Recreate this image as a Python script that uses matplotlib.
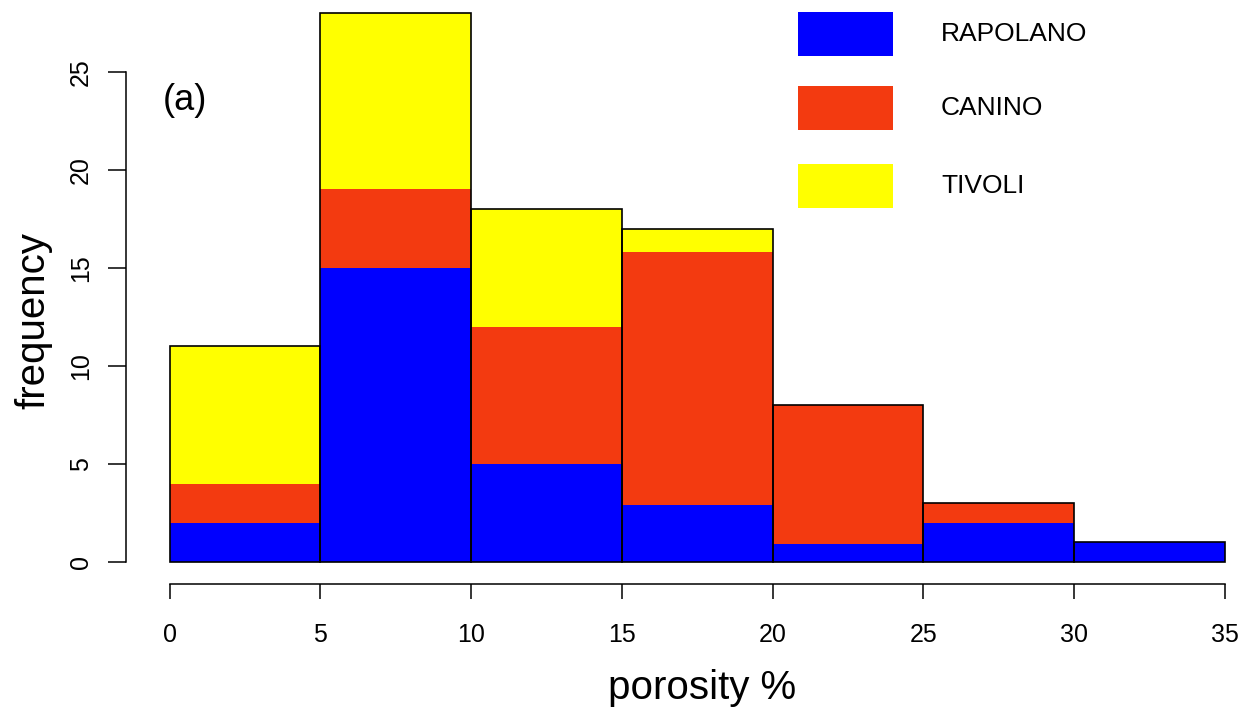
import numpy as np
import matplotlib
matplotlib.use("Agg")
import matplotlib.pyplot as plt
from matplotlib.patches import Rectangle

# bins (porosity %) and stacked counts per site
bin_edges = [0, 5, 10, 15, 20, 25, 30, 35]
rapolano = [2, 15, 5, 2.9, 0.9, 2, 1]
canino = [2, 4, 7, 12.9, 7.1, 1, 0]
tivoli = [7, 9, 6, 1.2, 0, 0, 0]
groups = ["RAPOLANO", "CANINO", "TIVOLI"]
colors = ["#0000ff", "#f33a10", "#ffff00"]

plt.rcParams["font.family"] = ["Liberation Sans", "DejaVu Sans"]

W, H = 1258, 719
fig = plt.figure(figsize=(W / 100, H / 100), dpi=100)
ax = fig.add_axes([126 / W, 1 - 584 / H, (1255 - 126) / W, (584 + 9) / H])

left = np.array(bin_edges[:-1])
width = np.diff(bin_edges)
bottom = np.zeros(len(left))
for vals, col in zip([rapolano, canino, tivoli], colors):
    vals = np.array(vals, dtype=float)
    ax.bar(left, vals, width=width, bottom=bottom, align="edge",
           color=col, edgecolor="none", linewidth=0)
    bottom += vals
# outline of the total histogram
ax.bar(left, bottom, width=width, align="edge", facecolor="none",
       edgecolor="black", linewidth=1.2)

ax.set_xlim(-1.45, 36.0)
ax.set_ylim(-1.12, 29.12)

# R-like axes
for s in ["top", "right"]:
    ax.spines[s].set_visible(False)
ax.spines["left"].set_bounds(0, 25)
ax.spines["bottom"].set_bounds(0, 35)
ax.spines["left"].set_linewidth(1.1)
ax.spines["bottom"].set_linewidth(1.1)
ax.set_xticks(range(0, 36, 5))
ax.set_yticks(range(0, 26, 5))
ax.tick_params(axis="x", length=11, width=1.1, pad=17, labelsize=18)
ax.tick_params(axis="y", length=13, width=1.1, pad=11, labelsize=18,
               labelrotation=90)
for lab in ax.get_yticklabels():
    lab.set_verticalalignment("center")

ax.set_xlabel("porosity %", fontsize=29, labelpad=16)
ax.set_ylabel("frequency", fontsize=29, labelpad=12)
ax.xaxis.label.set_x(0.51)
ax.yaxis.label.set_y(0.444)

fig.text(163 / W, 1 - 101 / H, "(a)", fontsize=26, va="center", ha="left")

# legend drawn in pixel layout
leg_y = [34, 108, 186]
for name, col, yc in zip(groups, colors, leg_y):
    fig.patches.append(Rectangle((798 / W, 1 - (yc + 22) / H), 95 / W, 44 / H,
                                 transform=fig.transFigure, facecolor=col,
                                 edgecolor="none"))
    fig.text(941 / W, 1 - yc / H, name, fontsize=19, va="center", ha="left")

fig.savefig("out.png", dpi=100)
